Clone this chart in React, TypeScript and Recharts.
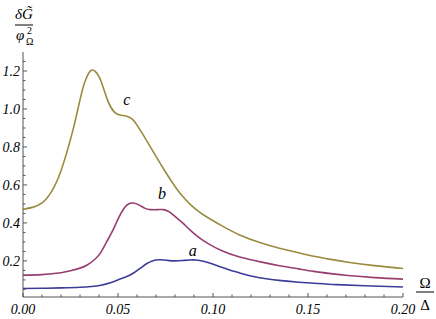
import { LineChart, Line, XAxis, YAxis, ReferenceDot, Label } from 'recharts';

// curve a (blue)
const aX = [0, 0.01, 0.02, 0.03, 0.036, 0.041, 0.046, 0.05, 0.054, 0.058, 0.062, 0.065, 0.068, 0.072, 0.076, 0.08, 0.084, 0.088, 0.091, 0.095, 0.099, 0.103, 0.108, 0.114, 0.12, 0.128, 0.136, 0.145, 0.155, 0.165, 0.18, 0.2];
const aY = [0.055, 0.056, 0.058, 0.061, 0.065, 0.072, 0.085, 0.1, 0.115, 0.135, 0.163, 0.185, 0.2, 0.206, 0.203, 0.2, 0.202, 0.205, 0.205, 0.198, 0.186, 0.172, 0.155, 0.137, 0.121, 0.106, 0.096, 0.088, 0.081, 0.075, 0.069, 0.063];

// curve b (magenta)
const bX = [0, 0.01, 0.02, 0.025, 0.03, 0.034, 0.038, 0.041, 0.044, 0.047, 0.05, 0.053, 0.0555, 0.058, 0.061, 0.064, 0.067, 0.071, 0.074, 0.077, 0.08, 0.084, 0.088, 0.092, 0.097, 0.105, 0.114, 0.125, 0.135, 0.145, 0.153, 0.162, 0.171, 0.185, 0.2];
const bY = [0.125, 0.128, 0.138, 0.148, 0.162, 0.18, 0.21, 0.245, 0.3, 0.355, 0.42, 0.475, 0.5, 0.505, 0.495, 0.478, 0.47, 0.47, 0.47, 0.458, 0.435, 0.4, 0.362, 0.328, 0.294, 0.252, 0.221, 0.195, 0.175, 0.158, 0.145, 0.133, 0.123, 0.112, 0.104];

// curve c (olive)
const cX = [0, 0.005, 0.01, 0.015, 0.02, 0.025, 0.028, 0.031, 0.033, 0.035, 0.0365, 0.038, 0.04, 0.042, 0.045, 0.048, 0.051, 0.054, 0.057, 0.06, 0.065, 0.07, 0.075, 0.08, 0.084, 0.088, 0.092, 0.097, 0.105, 0.114, 0.125, 0.135, 0.145, 0.153, 0.162, 0.171, 0.185, 0.2];
const cY = [0.472, 0.482, 0.505, 0.565, 0.675, 0.84, 0.96, 1.09, 1.155, 1.195, 1.205, 1.198, 1.17, 1.12, 1.035, 0.985, 0.968, 0.963, 0.95, 0.915, 0.835, 0.75, 0.668, 0.592, 0.54, 0.498, 0.464, 0.43, 0.383, 0.337, 0.296, 0.267, 0.243, 0.225, 0.208, 0.193, 0.175, 0.16];

const labelText = ['a', 'b', 'c'];
const labelX = [0.0894, 0.0732, 0.0546];
const labelY = [0.256, 0.556, 1.051];

const xMajor = [0, 0.05, 0.1, 0.15, 0.2];
const yMajor = [0.2, 0.4, 0.6, 0.8, 1.0, 1.2];
const xTicks = Array.from({ length: 21 }, (_, i) => +(i * 0.01).toFixed(2));
const yTicks = Array.from({ length: 25 }, (_, i) => +((i + 1) * 0.05).toFixed(2));

const zip = (xs: number[], ys: number[]) => xs.map((x, i) => ({ x, y: ys[i] }));
const seriesA = zip(aX, aY);
const seriesB = zip(bX, bY);
const seriesC = zip(cX, cY);

const colors = ['#3d3d99', '#993d71', '#998b3d'];
const serif = '"Liberation Serif", "Times New Roman", "DejaVu Serif", serif';
const axisColor = '#555';
const italic = { fontFamily: serif, fontStyle: 'italic' as const };
const upright = { fontFamily: serif };

const isMajor = (v: number, list: number[]) => list.some((m) => Math.abs(m - v) < 1e-6);

const XTick = ({ x, y, payload }: any) => {
    const major = isMajor(payload.value, xMajor);
    return (
        <g>
            <line x1={x} x2={x} y1={y} y2={y - (major ? 4 : 2.5)} stroke={axisColor} />
            {major && (
                <text x={x} y={y + 17} textAnchor="middle" style={italic} fontSize={14} fill="#000">
                    {payload.value.toFixed(2)}
                </text>
            )}
        </g>
    );
};

const YTick = ({ x, y, payload }: any) => {
    const major = isMajor(payload.value, yMajor);
    return (
        <g>
            <line x1={x} x2={x + (major ? 4 : 2.5)} y1={y} y2={y} stroke={axisColor} />
            {major && (
                <text x={x - 3} y={y + 5} textAnchor="end" style={italic} fontSize={14} fill="#000">
                    {payload.value.toFixed(1)}
                </text>
            )}
        </g>
    );
};

export default function App() {
    return (
        <div style={{ position: 'absolute', left: 0, top: 0, width: 436, height: 319, background: '#fff' }}>
            <LineChart width={436} height={319} margin={{ top: 52, right: 33, bottom: 0, left: 0 }}>
                <XAxis
                    dataKey="x"
                    type="number"
                    domain={[0, 0.2]}
                    ticks={xTicks}
                    interval={0}
                    height={22}
                    tickSize={0}
                    tickMargin={0}
                    tickLine={false}
                    axisLine={{ stroke: axisColor }}
                    tick={<XTick />}
                    allowDataOverflow
                />
                <YAxis
                    dataKey="y"
                    type="number"
                    domain={[0.01, 1.3]}
                    ticks={yTicks}
                    interval={0}
                    width={23}
                    tickSize={0}
                    tickMargin={0}
                    tickLine={false}
                    axisLine={{ stroke: axisColor }}
                    tick={<YTick />}
                    allowDataOverflow
                />
                <Line data={seriesA} dataKey="y" type="natural" stroke={colors[0]} strokeWidth={1.6} dot={false} isAnimationActive={false} />
                <Line data={seriesB} dataKey="y" type="natural" stroke={colors[1]} strokeWidth={1.6} dot={false} isAnimationActive={false} />
                <Line data={seriesC} dataKey="y" type="natural" stroke={colors[2]} strokeWidth={1.6} dot={false} isAnimationActive={false} />
                {labelText.map((t, i) => (
                    <ReferenceDot key={t} x={labelX[i]} y={labelY[i]} r={0} fill="none" stroke="none" ifOverflow="visible">
                        <Label value={t} position="center" style={italic} fontSize={16} fill="#000" />
                    </ReferenceDot>
                ))}
            </LineChart>
            <svg width={436} height={319} style={{ position: 'absolute', left: 0, top: 0, pointerEvents: 'none' }}>
                <g fill="#000">
                    <text x={24} y={19} textAnchor="middle" fontSize={15} style={italic}>{'δG\u0303'}</text>
                    <line x1={15} x2={33} y1={25} y2={25} stroke="#000" strokeWidth={1} />
                    <text x={16} y={40} fontSize={15} style={italic}>φ</text>
                    <text x={27} y={34} fontSize={10} style={upright}>2</text>
                    <text x={26} y={45} fontSize={10} style={upright}>Ω</text>
                    <text x={425} y={288} textAnchor="middle" fontSize={15} style={upright}>Ω</text>
                    <line x1={416} x2={434} y1={292} y2={292} stroke="#000" strokeWidth={1} />
                    <text x={425} y={310} textAnchor="middle" fontSize={15} style={upright}>Δ</text>
                </g>
            </svg>
        </div>
    );
}
